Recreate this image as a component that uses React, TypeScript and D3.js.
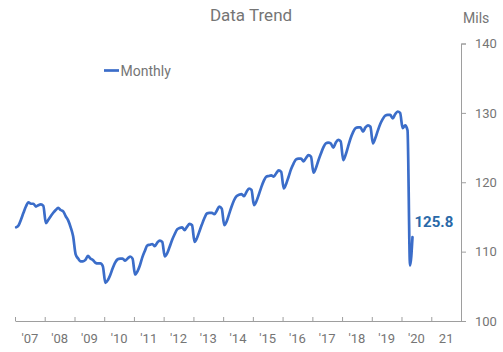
import { useEffect, useRef } from 'react'
import * as d3 from 'd3'

// monthly values (mils), Jan 2007 .. May 2020
const START_YEAR = 2007
const VALUES: number[] = [
  // 2007
  113.5, 113.8, 114.6, 115.6, 116.5, 117.1, 116.9, 116.9, 116.5, 116.7, 116.8, 116.6,
  // 2008
  114.1, 114.6, 115.1, 115.6, 116.0, 116.3, 116.0, 115.8, 115.1, 114.5, 113.5, 112.2,
  // 2009
  109.6, 109.0, 108.6, 108.6, 108.8, 109.4, 109.0, 108.8, 108.4, 108.3, 108.3, 107.9,
  // 2010
  105.5, 105.9, 106.6, 107.6, 108.4, 108.9, 109.0, 109.0, 108.7, 109.0, 109.3, 109.0,
  // 2011
  106.7, 107.2, 108.0, 109.2, 110.1, 110.9, 111.0, 111.1, 110.8, 111.3, 111.6, 111.4,
  // 2012
  109.3, 109.8, 110.7, 111.7, 112.5, 113.2, 113.4, 113.5, 113.1, 113.6, 114.0, 113.8,
  // 2013
  111.4, 112.0, 112.9, 113.9, 114.8, 115.5, 115.6, 115.6, 115.4, 115.9, 116.5, 116.2,
  // 2014
  113.8, 114.4, 115.4, 116.5, 117.4, 118.0, 118.2, 118.3, 118.0, 118.6, 119.1, 118.9,
  // 2015
  116.7, 117.3, 118.2, 119.3, 120.2, 120.8, 120.9, 121.0, 120.8, 121.3, 121.7, 121.5,
  // 2016
  119.1, 119.8, 120.8, 121.9, 122.7, 123.3, 123.4, 123.4, 123.0, 123.5, 123.9, 123.7,
  // 2017
  121.4, 122.1, 123.1, 124.1, 125.0, 125.6, 125.7, 125.6, 125.0, 125.7, 126.1, 125.9,
  // 2018
  123.2, 124.0, 125.1, 126.3, 127.2, 127.8, 127.9, 127.9, 127.3, 127.9, 128.2, 128.0,
  // 2019
  125.6, 126.4, 127.4, 128.4, 129.1, 129.6, 129.7, 129.7, 129.2, 129.8, 130.2, 130.0,
  // 2020
  127.8, 128.2, 127.5, 108.0, 112.1,
]

const YEARS = d3.range(2007, 2023)
const YEAR_LABELS = ["'07", "'08", "'09", "'10", "'11", "'12", "'13", "'14", "'15", "'16", "'17", "'18", "'19", "'20", '21']
const Y_TICKS = [100, 110, 120, 130, 140]
const LAST_LABEL = '125.8'

const WIDTH = 503
const HEIGHT = 352
const FONT = 'Roboto, sans-serif'
const GREY = '#757575'
const LINE = '#3b6dc9'

export default function App() {
  const svgRef = useRef<SVGSVGElement>(null)

  useEffect(() => {
    document.body.style.margin = '0'
    if (!svgRef.current) return
    const svg = d3.select(svgRef.current)
    svg.selectAll('*').remove()

    const data = VALUES.map((v, i) => ({
      date: new Date(START_YEAR + Math.floor(i / 12), i % 12, 15),
      value: v,
    }))

    const x = d3.scaleTime()
      .domain([new Date(2007, 0, 1), new Date(2022, 0, 1)])
      .range([15, 461])
    const y = d3.scaleLinear().domain([100, 140]).range([321, 43.5])

    // title
    svg.append('text')
      .attr('x', 251)
      .attr('y', 20.5)
      .attr('text-anchor', 'middle')
      .attr('font-family', FONT)
      .attr('font-size', 17)
      .attr('fill', GREY)
      .text('Data Trend')

    svg.append('text')
      .attr('x', 463)
      .attr('y', 23)
      .attr('font-family', FONT)
      .attr('font-size', 14)
      .attr('fill', GREY)
      .text('Mils')

    // x axis
    const xAxisG = svg.append('g')
      .attr('transform', 'translate(0,321)')
      .call(
        d3.axisBottom(x)
          .tickValues(YEARS.map(yr => new Date(yr, 0, 1)))
          .tickSizeInner(-4)
          .tickSizeOuter(0)
          .tickFormat(() => '')
      )
    xAxisG.select('.domain').attr('stroke', '#9e9e9e')
    xAxisG.selectAll('line').attr('stroke', '#9e9e9e')

    YEAR_LABELS.forEach((lab, i) => {
      const yr = YEARS[i]
      const mid = (x(new Date(yr, 0, 1)) + x(new Date(yr + 1, 0, 1))) / 2
      svg.append('text')
        .attr('x', mid)
        .attr('y', 342.5)
        .attr('text-anchor', 'middle')
        .attr('font-family', FONT)
        .attr('font-size', 13)
        .attr('fill', GREY)
        .text(lab)
    })

    // y axis on the right
    const yAxisG = svg.append('g')
      .attr('transform', 'translate(461,0)')
      .call(
        d3.axisRight(y)
          .tickValues(Y_TICKS)
          .tickSizeInner(5)
          .tickSizeOuter(5)
          .tickPadding(9)
      )
    yAxisG.select('.domain').attr('stroke', '#9e9e9e')
    yAxisG.selectAll('line').attr('stroke', '#9e9e9e')
    yAxisG.selectAll('text')
      .attr('font-family', FONT)
      .attr('font-size', 13)
      .attr('fill', GREY)

    // series line
    const line = d3.line<{ date: Date; value: number }>()
      .x(d => x(d.date))
      .y(d => y(d.value))
      .curve(d3.curveMonotoneX)

    svg.append('path')
      .datum(data)
      .attr('d', line)
      .attr('fill', 'none')
      .attr('stroke', LINE)
      .attr('stroke-width', 2.7)
      .attr('stroke-linejoin', 'round')
      .attr('stroke-linecap', 'round')

    // legend
    svg.append('line')
      .attr('x1', 104).attr('x2', 119)
      .attr('y1', 70.5).attr('y2', 70.5)
      .attr('stroke', LINE)
      .attr('stroke-width', 2.7)
    svg.append('text')
      .attr('x', 120.5)
      .attr('y', 76)
      .attr('font-family', FONT)
      .attr('font-size', 14)
      .attr('fill', GREY)
      .text('Monthly')

    // last value label
    const last = data[data.length - 1]
    svg.append('text')
      .attr('x', x(last.date) + 2)
      .attr('y', 227)
      .attr('font-family', FONT)
      .attr('font-size', 15)
      .attr('font-weight', 'bold')
      .attr('fill', '#2a69a8')
      .text(LAST_LABEL)
  }, [])

  return <svg ref={svgRef} width={WIDTH} height={HEIGHT} style={{ display: 'block' }} />
}
